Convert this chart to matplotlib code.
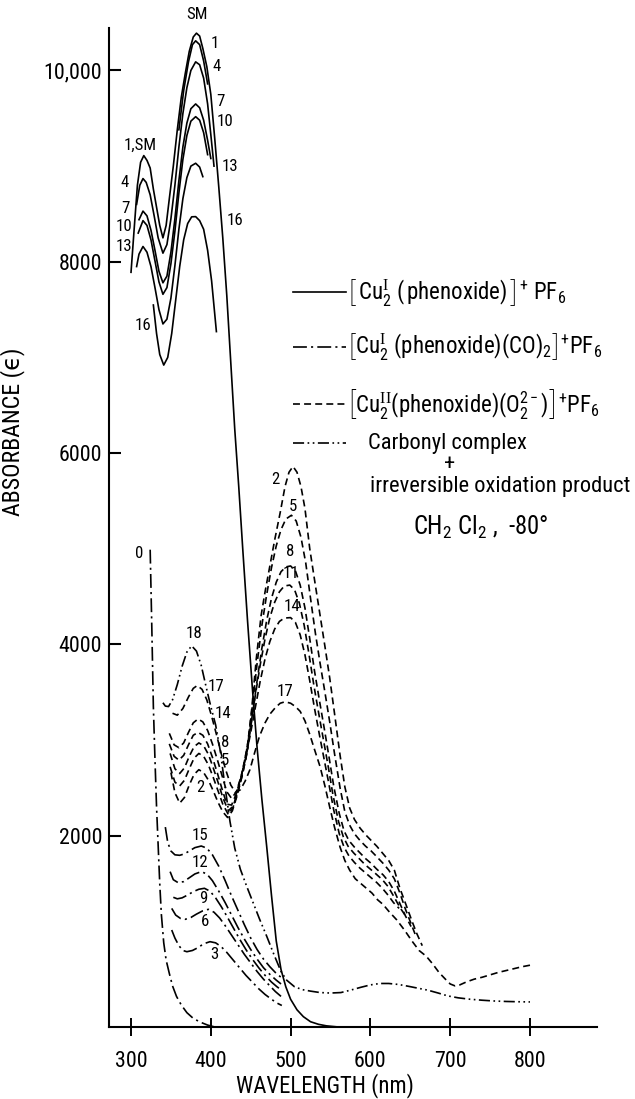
import matplotlib
matplotlib.use("Agg")
import matplotlib.pyplot as plt
from matplotlib import font_manager as fm
from matplotlib.lines import Line2D

# ---------------- data ----------------
# solid: [Cu2(I)(phenoxide)]+ PF6
lam_SM = [300, 304, 308, 312, 316, 320, 324, 328, 332, 336, 340, 344, 348, 353, 358, 363, 368, 373, 378, 382,
          386, 390, 395, 400, 405, 410, 415, 420, 425, 430, 435, 440, 446, 452, 458, 464, 470, 476, 482, 488,
          494, 500, 508, 516, 525, 535, 545, 560]
abs_SM = [7890, 8350, 8800, 9040, 9110, 9060, 8980, 8760, 8570, 8380, 8250, 8380, 8660, 9000, 9380, 9720, 9970,
          10200, 10350, 10390, 10360, 10230, 10040, 9750, 9280, 8780, 8250, 7650, 6950, 6250, 5650, 5000, 4250,
          3550, 2920, 2380, 1890, 1380, 900, 600, 420, 290, 180, 108, 55, 28, 12, 0]
lam_1 = [360, 366, 372, 377, 381, 386, 391, 396]
abs_1 = [9380, 9790, 10090, 10270, 10310, 10270, 10100, 9860]
lam_4 = [307, 311, 315, 319, 324, 329, 334, 340, 345, 350, 355, 360, 365, 370, 375, 381, 386, 391, 396, 400, 404]
abs_4 = [8600, 8800, 8870, 8830, 8700, 8480, 8250, 8090, 8180, 8450, 8800, 9200, 9550, 9820, 10000, 10090, 10060,
         9920, 9650, 9330, 9000]
lam_7 = [310, 315, 320, 325, 330, 335, 340, 345, 350, 355, 360, 365, 370, 375, 381, 386, 391, 396, 400]
abs_7 = [8440, 8530, 8480, 8330, 8120, 7900, 7780, 7850, 8100, 8450, 8850, 9200, 9450, 9600, 9650, 9610, 9480,
         9270, 9080]
lam_10 = [309, 315, 320, 325, 330, 335, 340, 345, 350, 355, 360, 365, 370, 375, 381, 386, 391, 396]
abs_10 = [8300, 8430, 8380, 8230, 8010, 7790, 7660, 7730, 7980, 8320, 8720, 9070, 9320, 9470, 9517, 9480, 9350,
          9120]
lam_13 = [307, 310, 315, 320, 325, 330, 335, 340, 345, 350, 355, 360, 365, 370, 375, 381, 386, 390]
abs_13 = [7950, 8080, 8160, 8100, 7950, 7730, 7500, 7350, 7400, 7620, 7960, 8340, 8660, 8880, 9000, 9030, 8990,
          8890]
lam_16 = [328, 332, 336, 341, 346, 351, 356, 361, 366, 371, 376, 381, 386, 391, 396, 401, 407]
abs_16 = [7548, 7250, 7030, 6920, 7000, 7250, 7600, 7950, 8230, 8400, 8470, 8472, 8430, 8340, 8120, 7800, 7270]

# dashed: [Cu2(II)(phenoxide)(O2 2-)]+ PF6
lam_2 = [350, 355, 361, 367, 373, 379, 385, 391, 397, 403, 409, 415, 421, 427, 433, 439, 445, 451, 457, 463, 468,
         474, 480, 487, 493, 498, 503, 508, 513, 518, 524, 531, 537, 543, 549, 555, 562, 568, 574, 580, 587, 594,
         601, 608, 616, 623, 630, 637, 645, 652, 658, 665]
abs_2 = [2660, 2450, 2340, 2400, 2530, 2640, 2690, 2660, 2580, 2470, 2350, 2250, 2190, 2260, 2420, 2620, 2850,
         3300, 3850, 4300, 4550, 4820, 5090, 5380, 5650, 5800, 5860, 5800, 5650, 5420, 5000, 4620, 4300, 3980,
         3650, 3280, 2840, 2510, 2290, 2170, 2080, 2010, 1950, 1890, 1810, 1740, 1640, 1450, 1270, 1110, 980, 850]
lam_5 = [349, 355, 361, 367, 373, 379, 385, 391, 397, 403, 409, 415, 422, 428, 434, 440, 446, 452, 458, 464, 470,
         476, 482, 488, 494, 501, 507, 513, 519, 525, 531, 537, 543, 549, 555, 562, 568, 574, 580, 587, 594, 601,
         608, 616, 623, 630, 637, 644, 651, 657]
abs_5 = [2720, 2560, 2520, 2580, 2700, 2810, 2860, 2830, 2740, 2610, 2470, 2330, 2220, 2300, 2470, 2680, 2950,
         3350, 3800, 4200, 4520, 4800, 5030, 5200, 5310, 5350, 5290, 5120, 4850, 4480, 4120, 3800, 3500, 3190,
         2860, 2500, 2250, 2110, 2020, 1950, 1890, 1840, 1780, 1710, 1640, 1550, 1400, 1230, 1080, 950]
lam_8 = [349, 355, 361, 367, 373, 379, 385, 391, 397, 403, 409, 415, 422, 428, 434, 440, 446, 452, 458, 464, 470,
         476, 482, 488, 494, 500, 506, 512, 518, 524, 530, 536, 542, 548, 554, 561, 567, 573, 580, 587, 594, 601,
         608, 616, 623, 630, 637, 644, 651]
abs_8 = [2860, 2700, 2650, 2710, 2830, 2930, 2970, 2940, 2850, 2710, 2560, 2400, 2260, 2310, 2460, 2650, 2900,
         3250, 3620, 3960, 4250, 4480, 4650, 4760, 4810, 4820, 4770, 4620, 4380, 4060, 3720, 3420, 3130, 2830,
         2520, 2230, 2050, 1950, 1880, 1820, 1760, 1710, 1650, 1590, 1520, 1420, 1290, 1160, 1050]
lam_11 = [348, 354, 360, 366, 372, 378, 384, 390, 396, 402, 408, 414, 420, 426, 432, 438, 444, 450, 456, 462, 468,
          474, 480, 486, 492, 499, 505, 511, 517, 523, 529, 535, 541, 547, 553, 560, 566, 572, 579, 586, 593, 600,
          607, 615, 622, 629, 637, 645]
abs_11 = [2960, 2830, 2790, 2840, 2950, 3050, 3080, 3050, 2960, 2820, 2660, 2490, 2330, 2320, 2440, 2620, 2850,
          3150, 3480, 3790, 4060, 4280, 4440, 4550, 4610, 4620, 4570, 4430, 4200, 3900, 3580, 3290, 3010, 2730,
          2430, 2150, 1990, 1890, 1820, 1760, 1700, 1650, 1600, 1540, 1470, 1370, 1250, 1150]
lam_14 = [348, 354, 360, 366, 372, 378, 384, 390, 396, 402, 408, 414, 420, 426, 432, 438, 444, 450, 456, 462, 468,
          474, 480, 486, 492, 500, 506, 512, 518, 524, 530, 536, 542, 548, 554, 561, 567, 573, 580, 587, 594, 601,
          608, 615, 622, 629, 636]
abs_14 = [3070, 2950, 2920, 2970, 3080, 3180, 3220, 3190, 3100, 2960, 2800, 2630, 2460, 2390, 2460, 2620, 2820,
          3080, 3350, 3620, 3850, 4030, 4160, 4240, 4275, 4280, 4230, 4100, 3890, 3620, 3330, 3060, 2800, 2540,
          2270, 2020, 1880, 1790, 1720, 1660, 1610, 1560, 1510, 1450, 1380, 1300, 1240]
lam_17 = [352, 358, 365, 372, 378, 383, 389, 395, 401, 407, 413, 419, 425, 431, 437, 443, 449, 455, 461, 468, 474,
          481, 487, 493, 500, 506, 512, 518, 524, 530, 537, 543, 549, 555, 562, 568, 574, 581, 588, 595, 602, 609,
          616, 623, 633, 643, 652, 661, 670, 678, 686, 694, 700, 706, 712, 720, 730, 740, 750, 760, 770, 780, 790,
          800]
abs_17 = [3280, 3260, 3330, 3450, 3540, 3570, 3530, 3420, 3250, 3060, 2860, 2680, 2530, 2450, 2480, 2570, 2690,
          2870, 3040, 3180, 3270, 3340, 3385, 3400, 3385, 3350, 3300, 3200, 3060, 2900, 2720, 2520, 2300, 2090,
          1880, 1740, 1640, 1550, 1500, 1450, 1400, 1330, 1280, 1210, 1120, 1010, 900, 800, 740, 660, 570, 500,
          450, 430, 440, 470, 500, 520, 545, 570, 590, 610, 630, 646]

# dash-dot: [Cu2(I)(phenoxide)(CO)2]+ PF6
lam_0 = [324, 326, 328, 330, 332, 334, 336, 338, 341, 344, 348, 352, 357, 363, 370, 378, 387, 396, 405]
abs_0 = [4990, 4200, 3350, 2800, 2300, 1900, 1500, 1180, 880, 700, 560, 430, 320, 230, 150, 90, 50, 20, 0]
lam_3 = [351, 355, 360, 365, 370, 377, 384, 391, 399, 406, 413, 420, 428, 436, 444, 452, 460, 468, 476, 483, 489]
abs_3 = [1014, 930, 850, 800, 787, 800, 830, 870, 892, 880, 840, 780, 700, 620, 540, 470, 400, 340, 290, 250, 225]
lam_6 = [351, 356, 362, 368, 375, 382, 390, 397, 404, 411, 418, 426, 434, 442, 450, 458, 466, 474, 481, 488]
abs_6 = [1240, 1170, 1135, 1126, 1145, 1180, 1215, 1230, 1200, 1140, 1060, 960, 860, 760, 670, 580, 500, 430, 370,
         320]
lam_9 = [353, 358, 364, 371, 378, 385, 392, 399, 406, 413, 420, 428, 436, 444, 452, 460, 468, 476, 483, 488]
abs_9 = [1356, 1340, 1350, 1380, 1415, 1440, 1450, 1420, 1350, 1260, 1160, 1040, 920, 810, 710, 620, 540, 470,
         420, 390]
lam_12 = [349, 353, 359, 366, 373, 380, 388, 395, 402, 410, 418, 426, 434, 442, 450, 458, 466, 474, 482, 488]
abs_12 = [1624, 1540, 1509, 1520, 1560, 1600, 1624, 1600, 1530, 1420, 1300, 1170, 1040, 920, 810, 710, 620, 550,
          490, 450]
lam_15 = [343, 346, 350, 355, 361, 367, 373, 380, 388, 395, 402, 410, 418, 426, 434, 442, 450, 458, 466, 474, 482,
          488]
abs_15 = [2090, 1930, 1840, 1800, 1795, 1810, 1840, 1875, 1892, 1870, 1800, 1680, 1530, 1370, 1220, 1070, 930,
          810, 710, 630, 560, 520]

# dash-dot-dot: carbonyl complex + irreversible oxidation product
lam_18 = [340, 343, 347, 352, 358, 364, 370, 376, 382, 388, 394, 400, 406, 412, 418, 424, 430, 437, 445, 453, 461,
          470, 479, 488, 495, 505, 515, 525, 537, 550, 563, 575, 588, 600, 612, 623, 635, 648, 660, 672, 685, 697,
          710, 725, 740, 755, 770, 785, 800]
abs_18 = [3390, 3355, 3350, 3420, 3580, 3770, 3920, 3985, 3930, 3780, 3560, 3350, 3160, 2880, 2500, 2150, 1870,
          1650, 1470, 1300, 1130, 950, 760, 580, 490, 420, 390, 375, 360, 355, 360, 385, 415, 440, 455, 455, 445,
          425, 405, 385, 355, 325, 305, 290, 280, 272, 267, 264, 262]

x_ticks = [300, 400, 500, 600, 700, 800]
y_ticks = [2000, 4000, 6000, 8000, 10000]
y_tick_labels = ["2000", "4000", "6000", "8000", "10,000"]

# curve labels: (text, wavelength, absorbance)
solid_labels = [("SM", 382, 10590), ("1", 405, 10285), ("4", 407.5, 10040), ("7", 411.5, 9674),
                ("10", 418, 9465), ("13", 424, 8994), ("16", 430.5, 8430), ("1,SM", 311, 9221),
                ("4", 292.5, 8827), ("7", 292.5, 8562), ("10", 291, 8367), ("13", 290.5, 8158),
                ("16", 315.5, 7339)]
dashed_labels = [("2", 481.5, 5719), ("5", 502.5, 5440), ("8", 500, 4969), ("11", 500.5, 4746),
                 ("14", 501.5, 4394), ("17", 493, 3505), ("17", 406.5, 3558), ("14", 415, 3280),
                 ("8", 418, 2972), ("5", 418, 2791), ("2", 386.5, 2506)]
dashdot_labels = [("0", 310.5, 4945), ("18", 379, 4109), ("15", 386.5, 2007), ("12", 386.5, 1718),
                  ("9", 390.5, 1345), ("6", 392.5, 1101), ("3", 404, 753)]


# ---------------- fonts: prefer a narrow / condensed sans ----------------
def pick_font():
    by_name = {}
    for f in fm.fontManager.ttflist:
        by_name.setdefault(f.name, []).append(f)
    for p in ["Liberation Sans Narrow", "Roboto Condensed", "Open Sans Condensed", "Noto Sans Condensed",
              "DejaVu Sans Condensed", "Arial Narrow"]:
        if p in by_name:
            return p, "normal"
    for fam in ["DejaVu Sans", "Noto Sans", "Roboto", "Open Sans"]:
        for f in by_name.get(fam, []):
            if str(f.stretch) in ("condensed", "semi-condensed", "extra-condensed") and f.style == "normal":
                return fam, str(f.stretch)
    return "DejaVu Sans", "normal"


FONT, STRETCH = pick_font()
names = {f.name for f in fm.fontManager.ttflist}
SERIF = "Liberation Serif" if "Liberation Serif" in names else "DejaVu Serif"
spec = FONT if STRETCH == "normal" else FONT + ":" + STRETCH

plt.rcParams["font.family"] = [FONT, "DejaVu Sans"]
plt.rcParams["font.stretch"] = STRETCH
plt.rcParams["mathtext.fontset"] = "custom"
plt.rcParams["mathtext.rm"] = spec
plt.rcParams["mathtext.it"] = spec + ":italic"
plt.rcParams["mathtext.bf"] = spec + ":bold"
plt.rcParams["mathtext.sf"] = SERIF
plt.rcParams["lines.scale_dashes"] = False

LW = 1.2
SOLID = dict(color="black", lw=LW, ls="-")
DASH = dict(color="black", lw=LW, dashes=(5, 3))
DASHDOT = dict(color="black", lw=LW, dashes=(10, 3, 1.5, 3))
DASHDOT2 = dict(color="black", lw=LW, dashes=(8, 2.5, 1.2, 2.5, 1.2, 2.5))

fig = plt.figure(figsize=(6.35, 10.99), dpi=100)
ax = fig.add_axes([109 / 635, 72 / 1099, 488 / 635, 999 / 1099])
renderer = fig.canvas.get_renderer()


def fit_size(s, target, along="width", rotation=0):
    t = fig.text(0.5, 0.5, s, fontsize=10, rotation=rotation)
    bb = t.get_window_extent(renderer)
    t.remove()
    size = bb.width if along == "width" else bb.height
    return 10.0 * target / size


for lam, a in [(lam_SM, abs_SM), (lam_1, abs_1), (lam_4, abs_4), (lam_7, abs_7), (lam_10, abs_10),
               (lam_13, abs_13), (lam_16, abs_16)]:
    ax.plot(lam, a, **SOLID)
for lam, a in [(lam_2, abs_2), (lam_5, abs_5), (lam_8, abs_8), (lam_11, abs_11), (lam_14, abs_14),
               (lam_17, abs_17)]:
    ax.plot(lam, a, **DASH)
for lam, a in [(lam_0, abs_0), (lam_3, abs_3), (lam_6, abs_6), (lam_9, abs_9), (lam_12, abs_12),
               (lam_15, abs_15)]:
    ax.plot(lam, a, **DASHDOT)
ax.plot(lam_18, abs_18, **DASHDOT2)

lab_fs = fit_size("1,SM", 33)
for s, x, y in solid_labels + dashed_labels + dashdot_labels:
    ax.text(x, y, s, ha="center", va="center", fontsize=lab_fs, clip_on=False)

ax.set_xlim(272.4, 884)
ax.set_ylim(0, 10444)
for side in ("top", "right"):
    ax.spines[side].set_visible(False)
for side in ("left", "bottom"):
    ax.spines[side].set_linewidth(1.5)
tick_fs = fit_size("10,000", 58)
ax.set_xticks(x_ticks)
ax.set_xticklabels([str(v) for v in x_ticks])
ax.set_yticks(y_ticks)
ax.set_yticklabels(y_tick_labels)
ax.tick_params(axis="x", direction="inout", length=13, width=1.4, labelsize=tick_fs, pad=11)
ax.tick_params(axis="y", direction="in", length=8.5, width=1.5, labelsize=tick_fs, pad=5)

ax.set_xlabel("WAVELENGTH (nm)", fontsize=fit_size("WAVELENGTH (nm)", 178), va="center")
ax.xaxis.set_label_coords((325 - 109) / 488, (1027 - 1086) / 999)
ax.set_ylabel("ABSORBANCE (ϵ)", fontsize=fit_size("ABSORBANCE (ϵ)", 168))
ax.yaxis.set_label_coords((25 - 109) / 488, (1027 - 432) / 999)


# ---------------- legend (drawn by hand, as in the original) ----------------
def fx(px):
    return px / 635


def fy(py):
    return 1 - py / 1099


for style, ypx in [(SOLID, 292), (DASHDOT, 347), (DASH, 404), (DASHDOT2, 443)]:
    fig.add_artist(Line2D([fx(293), fx(346)], [fy(ypx), fy(ypx)], transform=fig.transFigure, **style))

leg1 = r"$\left[\,\mathrm{Cu}_{2}^{\mathsf{I}}\ (\,\mathrm{phenoxide})\,\right]^{+}\ \mathrm{PF}_{6}$"
leg2 = r"$\left[\mathrm{Cu}_{2}^{\mathsf{I}}\ (\mathrm{phenoxide})(\mathrm{CO})_{2}\right]^{+}\mathrm{PF}_{6}$"
leg3 = r"$\left[\mathrm{Cu}_{2}^{\mathsf{II}}(\mathrm{phenoxide})(\mathrm{O}_{2}^{2-})\right]^{+}\mathrm{PF}_{6}$"
leg_fs = min(fit_size(leg1, 230), fit_size(leg2, 256), fit_size(leg3, 265))
fig.text(fx(346), fy(292), leg1, ha="left", va="center", fontsize=leg_fs)
fig.text(fx(346), fy(347), leg2, ha="left", va="center", fontsize=leg_fs)
fig.text(fx(346), fy(404), leg3, ha="left", va="center", fontsize=leg_fs)

txt_fs = min(fit_size("Carbonyl complex", 165), fit_size("irreversible oxidation product", 258))
ch_text = r"CH$_2$ Cl$_2$ ,  -80°"
ch_fs = min(fit_size(ch_text, 137), txt_fs * 1.1)
fig.text(fx(368), fy(443), "Carbonyl complex", ha="left", va="center", fontsize=txt_fs)
fig.text(fx(450), fy(465), "+", ha="center", va="center", fontsize=txt_fs)
fig.text(fx(370), fy(487), "irreversible oxidation product", ha="left", va="center", fontsize=txt_fs)
fig.text(fx(413), fy(527), ch_text, ha="left", va="center", fontsize=ch_fs)

fig.savefig("out.png", dpi=100)
